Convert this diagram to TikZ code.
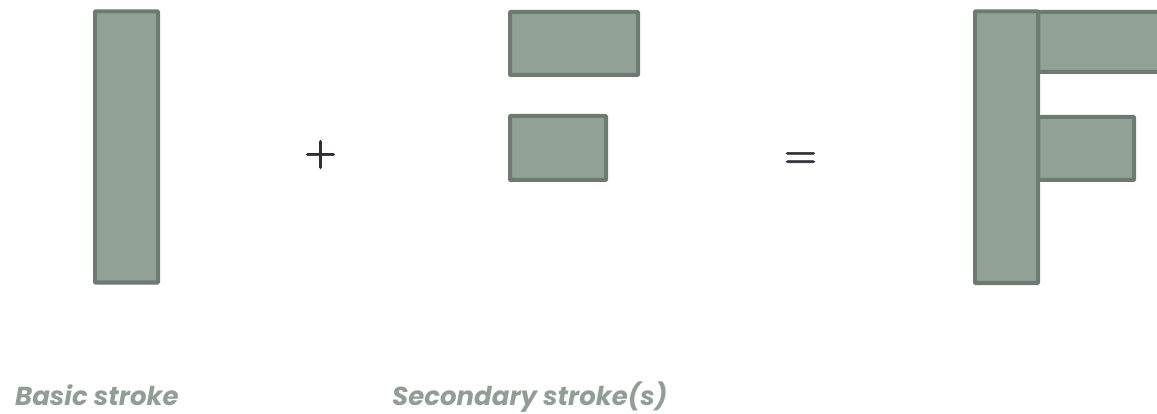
\documentclass[tikz,border=0pt]{standalone}
\usepackage{fontspec}
\newfontfamily\labelfont{Poppins}
\newfontfamily\signfont{Latin Modern Roman}[FakeBold=1.6]
\definecolor{strokefill}{HTML}{91A196}
\definecolor{strokeedge}{HTML}{6D7A6F}
\definecolor{labelgray}{HTML}{909E95}
\definecolor{signgray}{HTML}{2E2E3A}
\begin{document}
\begin{tikzpicture}[x=1pt,y=-1pt]
        \clip (0,0) rectangle (1157,414);
        \begin{scope}[every node/.style={rectangle,draw=strokeedge,fill=strokefill,line width=4pt,inner sep=0pt,rounded corners=0.6pt}]
            \node (basic) at (126.5,147) [minimum width=63pt,minimum height=271pt]{};
            \node (secA) at (574,43.5) [minimum width=128pt,minimum height=63pt]{};
            \node (secB) at (558,148) [minimum width=96pt,minimum height=64pt]{};
            \node (barA) at (1102,42) [minimum width=128pt,minimum height=60pt]{};
            \node (barB) at (1086,148.5) [minimum width=96pt,minimum height=63pt]{};
            \node (stem) at (1006.5,147.25) [minimum width=63pt,minimum height=271.5pt]{};
        \end{scope}
        \begin{scope}[every node/.style={anchor=base,inner sep=0pt,text=signgray,font=\signfont\fontsize{38}{40}\selectfont}]
            \node (plus) at (320.5,164) {\bfseries +};
            \node (equals) at (800.5,167) {\bfseries =};
        \end{scope}
        \begin{scope}[every node/.style={anchor=base west,inner sep=0pt,text=labelgray,font=\labelfont\bfseries\itshape\fontsize{26}{30}\selectfont}]
            \node (basiclabel) at (15,405) {Basic stroke};
            \node (seclabel) at (392,405) {Secondary stroke(s)};
        \end{scope}
\end{tikzpicture}
\end{document}
